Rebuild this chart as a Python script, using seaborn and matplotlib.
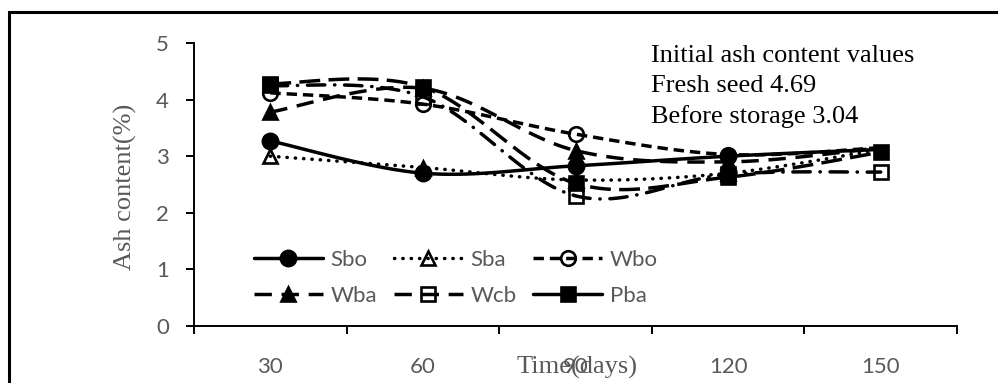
import numpy as np
import pandas as pd
import matplotlib
matplotlib.use("Agg")
import matplotlib.pyplot as plt
from matplotlib.lines import Line2D
from matplotlib.patches import Rectangle
import seaborn as sns

days = ["30", "60", "90", "120", "150"]
sbo = [3.27, 2.70, 2.83, 3.00, 3.12]
sba = [3.00, 2.80, 2.58, 2.70, 3.12]
wbo = [4.12, 3.92, 3.39, 3.03, 3.15]
wba = [3.78, 4.20, 3.10, 2.90, 3.15]
wcb = [4.25, 4.05, 2.30, 2.68, 2.72]
pba = [4.28, 4.22, 2.52, 2.63, 3.07]
series_names = ["Sbo", "Sba", "Wbo", "Wba", "Wcb", "Pba"]
annot_lines = ["Initial ash content values", "Fresh seed 4.69", "Before storage 3.04"]

values = {"Sbo": sbo, "Sba": sba, "Wbo": wbo, "Wba": wba, "Wcb": wcb, "Pba": pba}

sns.set_theme(style="white")
plt.rcParams["font.family"] = ["Lato", "DejaVu Sans"]

fig = plt.figure(figsize=(9.98, 3.83), dpi=100)
W, H = 998, 383
ax = fig.add_axes([194 / W, 1 - 326 / H, (957 - 194) / W, (326 - 43) / H])


def smooth(y, n=30):
    """Excel-like smoothed line (cubic Bezier, tension 1/6)."""
    x = np.arange(len(y), dtype=float)
    y = np.asarray(y, dtype=float)
    px = np.concatenate([[x[0]], x, [x[-1]]])
    py = np.concatenate([[y[0]], y, [y[-1]]])
    xs, ys = [], []
    t = np.linspace(0, 1, n)
    for i in range(len(y) - 1):
        p0 = np.array([px[i + 1], py[i + 1]])
        p3 = np.array([px[i + 2], py[i + 2]])
        c1 = p0 + (np.array([px[i + 2], py[i + 2]]) - np.array([px[i], py[i]])) / 6
        c2 = p3 - (np.array([px[i + 3], py[i + 3]]) - np.array([px[i + 1], py[i + 1]])) / 6
        bx = (1 - t) ** 3 * p0[0] + 3 * (1 - t) ** 2 * t * c1[0] + 3 * (1 - t) * t ** 2 * c2[0] + t ** 3 * p3[0]
        by = (1 - t) ** 3 * p0[1] + 3 * (1 - t) ** 2 * t * c1[1] + 3 * (1 - t) * t ** 2 * c2[1] + t ** 3 * p3[1]
        xs.extend(bx if i == 0 else bx[1:])
        ys.extend(by if i == 0 else by[1:])
    return np.array(xs), np.array(ys)


LW = 2.5
styles = {
    "Sbo": dict(ls="-", dashes=None, marker="o", ms=11, fill=True),
    "Sba": dict(ls=":", dashes=(0.1, 2.3), marker="^", ms=10.5, fill=False),
    "Wbo": dict(ls="--", dashes=(3.0, 1.7), marker="o", ms=10.5, fill=False),
    "Wba": dict(ls="--", dashes=(5.0, 2.8), marker="^", ms=10.5, fill=True),
    "Wcb": dict(ls="-.", dashes=(5.0, 2.8, 0.1, 2.8), marker="s", ms=10.5, fill=False),
    "Pba": dict(ls="--", dashes=(6.0, 2.4), marker="s", ms=10.5, fill=True),
}
markevery = {"Sbo": [0, 1, 2, 3], "Sba": [0, 1, 2, 3], "Wbo": [0, 1, 2, 3],
             "Wba": [0, 1, 2, 3], "Wcb": [0, 1, 2, 3, 4], "Pba": [0, 1, 2, 3, 4]}

xpos = np.arange(len(days))
for name in series_names:
    st = styles[name]
    sx, sy = smooth(values[name])
    df = pd.DataFrame({"x": sx, "y": sy})
    sns.lineplot(data=df, x="x", y="y", ax=ax, color="black", lw=LW, sort=False, estimator=None)
    line = ax.get_lines()[-1]
    if st["dashes"] is not None:
        line.set_dashes(st["dashes"])
        line.set_dash_capstyle("round" if st["ls"] in (":", "-.") else "butt")
    pts = pd.DataFrame({"x": xpos[markevery[name]], "y": np.array(values[name])[markevery[name]]})
    ax.plot(pts["x"], pts["y"], ls="none", marker=st["marker"], ms=st["ms"],
            mfc="black" if st["fill"] else "none", mec="black", mew=1.9, zorder=5)

ax.set_xlim(-0.5, len(days) - 0.5)
ax.set_ylim(0, 5)
ax.set_yticks(range(0, 6))
ax.set_xticks(np.arange(-0.5, len(days), 1.0))
ax.set_xticklabels([])
ax.set_xticks(xpos, minor=True)
ax.set_xticklabels(days, minor=True)
ax.tick_params(axis="x", which="major", direction="out", length=6, width=1.4, color="black", bottom=True)
ax.tick_params(axis="x", which="minor", length=0, pad=22, labelsize=16, labelcolor="#595959")
ax.tick_params(axis="y", direction="out", length=6, width=1.4, color="black", left=True,
               pad=12, labelsize=16, labelcolor="#595959")
for s in ["top", "right"]:
    ax.spines[s].set_visible(False)
for s in ["left", "bottom"]:
    ax.spines[s].set_color("black")
    ax.spines[s].set_linewidth(1.4)
ax.set_xlabel("")
ax.set_ylabel("")
ax.grid(False)

serif = ["Liberation Serif", "DejaVu Serif"]
fig.text(125 / W, 1 - 187 / H, "Ash content(%)", rotation=90, ha="center", va="center",
         fontsize=19, color="#595959", family=serif)
fig.text(577 / W, 1 - 367 / H, "Time(days)", ha="center", va="center",
         fontsize=19, color="#595959", family=serif)
for txt, yy in zip(annot_lines, [56, 86, 117]):
    fig.text(651 / W, 1 - yy / H, txt, ha="left", va="center", fontsize=19,
             color="black", family=serif)

leg_style = {
    "Sbo": dict(ls="-", marker="o", ms=11, mfc="black"),
    "Sba": dict(ls=(0, (0.1, 2.3)), marker="^", ms=10.5, mfc="none"),
    "Wbo": dict(ls=(0, (3.0, 1.7)), marker="o", ms=10.5, mfc="none"),
    "Wba": dict(ls=(0, (5.0, 2.8)), marker="^", ms=10.5, mfc="black"),
    "Wcb": dict(ls=(0, (5.0, 2.8)), marker="s", ms=10.5, mfc="none"),
    "Pba": dict(ls="-", marker="s", ms=10.5, mfc="black"),
}
order = ["Sbo", "Wba", "Sba", "Wcb", "Wbo", "Pba"]  # column-major fill -> row-wise display
handles = []
for name in order:
    s = leg_style[name]
    h = Line2D([], [], color="black", lw=LW, ls=s["ls"], marker=s["marker"], ms=s["ms"],
               mfc=s["mfc"], mec="black", mew=1.9,
               dash_capstyle="round" if name == "Sba" else "butt")
    handles.append(h)
leg = ax.legend(handles, order, ncol=3, loc="center left",
                bbox_to_anchor=((254 - 194) / (957 - 194), (326 - 278) / (326 - 43)),
                frameon=False, fontsize=16, handlelength=3.1, handletextpad=0.35,
                columnspacing=0.75, labelspacing=0.7, borderpad=0, borderaxespad=0)
for t in leg.get_texts():
    t.set_color("#595959")

fig.add_artist(Rectangle((9 / W, -0.05), 1.2, 1 - 12 / H + 0.05, transform=fig.transFigure,
                         fill=False, ec="black", lw=2.2, clip_on=False))

fig.savefig("out.png", dpi=100)
